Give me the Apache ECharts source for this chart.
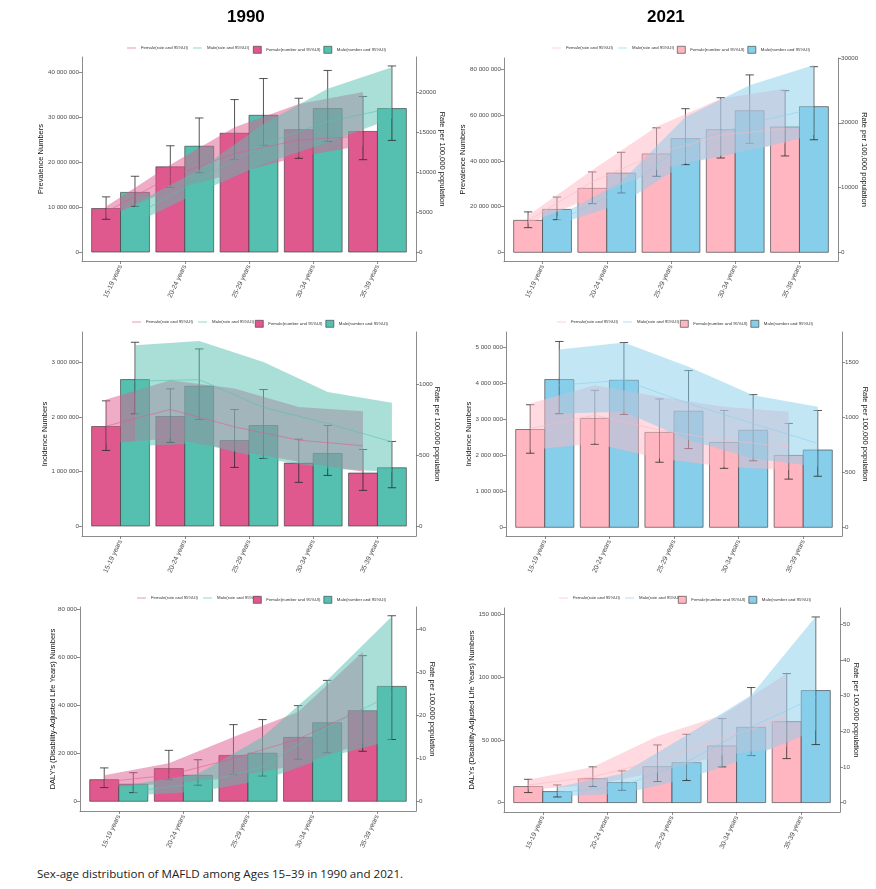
<!DOCTYPE html>
<html>
<head>
<meta charset="utf-8">
<title>MAFLD sex-age distribution</title>
<script src="https://cdn.jsdelivr.net/npm/echarts@6/dist/echarts.min.js"></script>
<style>
  html, body { margin: 0; padding: 0; background: #fff; }
  body { width: 876px; height: 889px; position: relative; overflow: hidden; }
  .panel { position: absolute; }
  #caption { position: absolute; left: 37px; top: 866px; font: 11.6px "Open Sans", sans-serif; color: #222; white-space: nowrap; }
</style>
</head>
<body>
<div id="p1" class="panel" style="left:0;top:0;width:452px;height:300px"></div>
<div id="p2" class="panel" style="left:440px;top:0;width:436px;height:300px"></div>
<div id="p3" class="panel" style="left:0;top:300px;width:452px;height:280px"></div>
<div id="p4" class="panel" style="left:440px;top:300px;width:436px;height:280px"></div>
<div id="p5" class="panel" style="left:0;top:580px;width:452px;height:280px"></div>
<div id="p6" class="panel" style="left:440px;top:580px;width:436px;height:280px"></div>
<div id="caption">Sex-age distribution of MAFLD among Ages 15–39 in 1990 and 2021.</div>
<script>
// age groups on the x axis
var ageGroups = ['15-19 years', '20-24 years', '25-29 years', '30-34 years', '35-39 years'];

// each row: [value, lower UI, upper UI]
// --- prevalence ---
var prev1990FemaleNum = [[9700000, 7300000, 12300000], [19000000, 14400000, 23700000], [26500000, 20600000, 34000000], [27300000, 20900000, 34300000], [26900000, 20600000, 34700000]];
var prev1990MaleNum = [[13300000, 10200000, 16900000], [23600000, 17700000, 29900000], [30500000, 23800000, 38700000], [32000000, 24700000, 40500000], [32000000, 24900000, 41500000]];
var prev1990FemaleRate = [[5000, 4300, 5700], [9400, 7750, 10900], [12300, 9800, 15600], [14000, 11900, 18500], [14500, 13300, 20000]];
var prev1990MaleRate = [[4600, 3600, 6000], [9000, 7500, 10300], [13500, 11000, 16000], [16300, 13700, 20400], [18000, 16700, 23100]];

var prev2021FemaleNum = [[14000000, 10800000, 17700000], [28000000, 21300000, 35200000], [43100000, 33300000, 54500000], [53700000, 41300000, 67700000], [54900000, 42200000, 70800000]];
var prev2021MaleNum = [[18800000, 14300000, 24200000], [34700000, 26000000, 43800000], [49800000, 38400000, 62900000], [62000000, 47700000, 77700000], [63800000, 49300000, 81300000]];
var prev2021FemaleRate = [[4900, 4400, 5700], [10900, 8500, 12700], [15200, 12700, 19400], [18100, 15000, 23700], [19100, 16800, 25300]];
var prev2021MaleRate = [[4800, 4300, 5500], [9600, 7500, 10900], [16800, 13700, 20900], [19900, 15700, 25800], [22200, 18100, 28900]];

// --- incidence ---
var inc1990FemaleNum = [[1823000, 1384000, 2293000], [2006000, 1530000, 2512000], [1567000, 1073000, 2134000], [1152000, 799000, 1591000], [970000, 652000, 1402000]];
var inc1990MaleNum = [[2683000, 2055000, 3366000], [2561000, 1951000, 3244000], [1841000, 1238000, 2500000], [1329000, 927000, 1841000], [1067000, 701000, 1549000]];
var inc1990FemaleRate = [[706, 584, 894], [824, 619, 1031], [701, 536, 972], [607, 454, 842], [567, 384, 812]];
var inc1990MaleRate = [[1024, 565, 1278], [1035, 584, 1308], [838, 478, 1160], [725, 407, 948], [595, 384, 871]];

var inc2021FemaleNum = [[2720000, 2060000, 3410000], [3030000, 2310000, 3810000], [2640000, 1810000, 3570000], [2360000, 1640000, 3250000], [2000000, 1340000, 2890000]];
var inc2021MaleNum = [[4110000, 3160000, 5170000], [4090000, 3140000, 5140000], [3230000, 2190000, 4360000], [2700000, 1850000, 3690000], [2150000, 1420000, 3250000]];
var inc2021FemaleRate = [[900, 703, 1127], [1021, 764, 1294], [885, 627, 1188], [794, 552, 1097], [733, 521, 1052]];
var inc2021MaleRate = [[1294, 1036, 1618], [1339, 1052, 1682], [1127, 794, 1461], [945, 627, 1203], [764, 552, 1097]];

// --- DALYs ---
var daly1990FemaleNum = [[9000, 5700, 13900], [13600, 9000, 21200], [19100, 11100, 31900], [26600, 17500, 39800], [37700, 20800, 60600]];
var daly1990MaleNum = [[7100, 3600, 11900], [10800, 6700, 17300], [20000, 10500, 34000], [32700, 20200, 50300], [47800, 25700, 77200]];
var daly1990FemaleRate = [[4.5, 3.3, 6.1], [6.1, 4.1, 8.9], [10.0, 5.7, 15.0], [14.5, 8.4, 20.8], [21.5, 13.4, 34.8]];
var daly1990MaleRate = [[2.4, 1.4, 4.0], [4.1, 2.2, 6.4], [8.0, 4.9, 15.0], [17.3, 10.3, 28.2], [24.9, 14.2, 43.1]];

var daly2021FemaleNum = [[12800, 8000, 18600], [19100, 12800, 28500], [28700, 16800, 46000], [45200, 28500, 67000], [64600, 35100, 102900]];
var daly2021MaleNum = [[8800, 4500, 14100], [16000, 9800, 25300], [31900, 17600, 54500], [60100, 37500, 91800], [89400, 46300, 148100]];
var daly2021FemaleRate = [[4.9, 3.6, 6.4], [7.2, 4.9, 10.0], [11.9, 8.6, 18.6], [17.9, 13.3, 24.5], [24.0, 15.6, 36.2]];
var daly2021MaleRate = [[2.8, 1.8, 4.4], [4.6, 2.5, 8.1], [11.4, 6.7, 18.9], [21.2, 12.8, 30.1], [29.6, 20.3, 52.2]];

// tick labels
var prev1990Ticks = [0, 10000000, 20000000, 30000000, 40000000];
var prev1990RateTicks = [0, 5000, 10000, 15000, 20000];
var prev2021Ticks = [0, 20000000, 40000000, 60000000, 80000000];
var prev2021RateTicks = [0, 10000, 20000, 30000];
var inc1990Ticks = [0, 1000000, 2000000, 3000000];
var inc1990RateTicks = [0, 500, 1000];
var inc2021Ticks = [0, 1000000, 2000000, 3000000, 4000000, 5000000];
var inc2021RateTicks = [0, 500, 1000, 1500];
var daly1990Ticks = [0, 20000, 40000, 60000, 80000];
var daly1990RateTicks = [0, 10, 20, 30, 40];
var daly2021Ticks = [0, 50000, 100000, 150000];
var daly2021RateTicks = [0, 10, 20, 30, 40, 50];

var FEMALE_RATE = 'Female(rate and 95%UI)';
var MALE_RATE = 'Male(rate and 95%UI)';
var FEMALE_NUM = 'Female(number and 95%UI)';
var MALE_NUM = 'Male(number and 95%UI)';

var colors1990 = { female: '#E0598E', male: '#55C0AF' };
var colors2021 = { female: '#FFB6C1', male: '#87CEEB' };

var axisGrey = '#6e6e6e';
var labelGrey = '#4d4d4d';
var font = 'Liberation Sans';

function spaced(v) {
  return String(v).replace(/\B(?=(\d{3})+(?!\d))/g, ' ');
}

function rgba(hex, a) {
  var n = parseInt(hex.slice(1), 16);
  return 'rgba(' + (n >> 16) + ',' + ((n >> 8) & 255) + ',' + (n & 255) + ',' + a + ')';
}

// rows [x, value, lo, hi] at group position i+1 shifted by dx
function toRows(arr, dx) {
  return arr.map(function(d, i) { return [i + 1 + dx, d[0], d[1], d[2]]; });
}

function barSeries(name, rows, color) {
  return {
    type: 'custom', name: name, data: rows,
    itemStyle: { color: color, borderColor: '#333', borderWidth: 0.6 },
    renderItem: function(params, api) {
      var x = api.value(0);
      var a = api.coord([x - 0.225, 0]);
      var b = api.coord([x + 0.225, api.value(1)]);
      return {
        type: 'rect',
        shape: { x: a[0], y: b[1], width: b[0] - a[0], height: a[1] - b[1] },
        style: { fill: color, stroke: '#333', lineWidth: 0.6 }
      };
    }
  };
}

function errorSeries(name, rows) {
  return {
    type: 'custom', name: name, data: rows, silent: true,
    renderItem: function(params, api) {
      var x = api.value(0);
      var lo = api.coord([x, api.value(2)]);
      var hi = api.coord([x, api.value(3)]);
      var capL = api.coord([x - 0.065, api.value(2)])[0];
      var capR = api.coord([x + 0.065, api.value(2)])[0];
      var st = { stroke: '#2a2a2a', lineWidth: 0.8 };
      return {
        type: 'group',
        children: [
          { type: 'line', shape: { x1: lo[0], y1: lo[1], x2: hi[0], y2: hi[1] }, style: st },
          { type: 'line', shape: { x1: capL, y1: lo[1], x2: capR, y2: lo[1] }, style: st },
          { type: 'line', shape: { x1: capL, y1: hi[1], x2: capR, y2: hi[1] }, style: st }
        ]
      };
    }
  };
}

function bandSeries(name, rows, color) {
  return {
    type: 'custom', name: name, yAxisIndex: 1, data: rows, silent: true,
    renderItem: function(params, api) {
      if (params.dataIndex !== 0) return null;
      var upper = rows.map(function(r) { return api.coord([r[0], r[3]]); });
      var lower = rows.map(function(r) { return api.coord([r[0], r[2]]); }).reverse();
      return {
        type: 'polygon',
        shape: { points: upper.concat(lower) },
        style: { fill: rgba(color, 0.5) }
      };
    }
  };
}

function lineSeries(name, rows, color) {
  return {
    type: 'line', name: name, yAxisIndex: 1, symbol: 'none', silent: true,
    data: rows.map(function(r) { return [r[0], r[1]]; }),
    itemStyle: { color: color },
    lineStyle: { color: rgba(color, 0.8), width: 0.7 }
  };
}

function drawPanel(p) {
  var chart = echarts.init(document.getElementById(p.id), null, { renderer: 'canvas' });
  var c = p.colors;
  var fNum = toRows(p.femaleNum, -0.225);
  var mNum = toRows(p.maleNum, 0.225);
  var fRate = toRows(p.femaleRate, -0.225);
  var mRate = toRows(p.maleRate, 0.225);
  var legendText = { fontSize: 4.3, color: '#333', fontFamily: font };

  chart.setOption({
    animation: false,
    textStyle: { fontFamily: font },
    title: p.title ? {
      text: p.title, left: p.titleLeft, top: 4,
      textStyle: { fontSize: 17, fontWeight: 'bold', color: '#000', fontFamily: font }
    } : undefined,
    legend: [
      {
        left: p.legendLeft[0], top: p.legendTop, itemWidth: 9, itemHeight: 0.8, itemGap: 5,
        icon: 'rect', textStyle: legendText, selectedMode: false,
        data: [
          { name: FEMALE_RATE, itemStyle: { color: rgba(c.female, 0.8) } },
          { name: MALE_RATE, itemStyle: { color: rgba(c.male, 0.8) } }
        ]
      },
      {
        left: p.legendLeft[1], top: p.legendTop, itemWidth: 8, itemHeight: 7, itemGap: 3,
        textStyle: legendText, selectedMode: false,
        data: [
          { name: FEMALE_NUM, icon: 'rect', itemStyle: { color: c.female, borderColor: '#333', borderWidth: 0.6 } },
          { name: MALE_NUM, icon: 'rect', itemStyle: { color: c.male, borderColor: '#333', borderWidth: 0.6 } }
        ]
      }
    ],
    grid: Object.assign({ containLabel: false, outerBoundsMode: 'none' }, p.grid),
    xAxis: {
      type: 'value', min: 0.4, max: 5.6,
      splitLine: { show: false },
      axisLine: { onZero: false, lineStyle: { color: axisGrey, width: 0.8 } },
      axisTick: { customValues: [1, 2, 3, 4, 5], length: 3, lineStyle: { color: axisGrey, width: 0.8 } },
      axisLabel: {
        customValues: [1, 2, 3, 4, 5], rotate: 65, margin: 4,
        fontSize: 6.8, color: labelGrey,
        formatter: function(v) { return ageGroups[Math.round(v) - 1]; }
      }
    },
    yAxis: [
      {
        type: 'value', position: 'left', min: p.leftRange[0], max: p.leftRange[1],
        name: p.yName, nameLocation: 'middle', nameGap: p.nameGap[0], nameMoveOverlap: false,
        nameTextStyle: { fontSize: 7.5, color: '#111' },
        splitLine: { show: false },
        axisLine: { show: true, onZero: false, lineStyle: { color: axisGrey, width: 0.8 } },
        axisTick: { show: true, customValues: p.leftTicks, length: 3, lineStyle: { color: axisGrey, width: 0.8 } },
        axisLabel: { customValues: p.leftTicks, margin: 3, fontSize: 6.2, color: labelGrey, formatter: spaced }
      },
      {
        type: 'value', position: 'right', min: p.rightRange[0], max: p.rightRange[1],
        name: 'Rate per 100,000 population', nameLocation: 'middle', nameGap: p.nameGap[1], nameRotate: -90,
        nameMoveOverlap: false,
        nameTextStyle: { fontSize: 7.5, color: '#111' },
        splitLine: { show: false },
        axisLine: { show: true, onZero: false, lineStyle: { color: axisGrey, width: 0.8 } },
        axisTick: { show: true, customValues: p.rightTicks, length: 3, lineStyle: { color: axisGrey, width: 0.8 } },
        axisLabel: { customValues: p.rightTicks, margin: 3, fontSize: 6.2, color: labelGrey, formatter: function(v) { return String(v); } }
      }
    ],
    series: [
      barSeries(FEMALE_NUM, fNum, c.female),
      barSeries(MALE_NUM, mNum, c.male),
      errorSeries('female error', fNum),
      errorSeries('male error', mNum),
      bandSeries('female band', fRate, c.female),
      bandSeries('male band', mRate, c.male),
      lineSeries(FEMALE_RATE, fRate, c.female),
      lineSeries(MALE_RATE, mRate, c.male)
    ]
  });
  return chart;
}

var panels = [
  {
    id: 'p1', title: '1990', titleLeft: 222, yName: 'Prevalence Numbers', colors: colors1990,
    femaleNum: prev1990FemaleNum, maleNum: prev1990MaleNum, femaleRate: prev1990FemaleRate, maleRate: prev1990MaleRate,
    leftTicks: prev1990Ticks, rightTicks: prev1990RateTicks,
    leftRange: [-2000000, 43500000], rightRange: [-1125, 24375],
    grid: { left: 82, top: 57, width: 334, height: 204 }, nameGap: [37, 22],
    legendLeft: [122, 248], legendTop: 41
  },
  {
    id: 'p2', title: '2021', titleLeft: 202, yName: 'Prevalence Numbers', colors: colors2021,
    femaleNum: prev2021FemaleNum, maleNum: prev2021MaleNum, femaleRate: prev2021FemaleRate, maleRate: prev2021MaleRate,
    leftTicks: prev2021Ticks, rightTicks: prev2021RateTicks,
    leftRange: [-3800000, 85100000], rightRange: [-1343, 30000],
    grid: { left: 64, top: 58, width: 334, height: 203 }, nameGap: [37.5, 22],
    legendLeft: [107, 232], legendTop: 41
  },
  {
    id: 'p3', yName: 'Incidence Numbers', colors: colors1990,
    femaleNum: inc1990FemaleNum, maleNum: inc1990MaleNum, femaleRate: inc1990FemaleRate, maleRate: inc1990MaleRate,
    leftTicks: inc1990Ticks, rightTicks: inc1990RateTicks,
    leftRange: [-183000, 3554000], rightRange: [-70.6, 1371.6],
    grid: { left: 82, top: 32, width: 334, height: 204 }, nameGap: [33, 17.5],
    legendLeft: [127, 250], legendTop: 15
  },
  {
    id: 'p4', yName: 'Incidence Numbers', colors: colors2021,
    femaleNum: inc2021FemaleNum, maleNum: inc2021MaleNum, femaleRate: inc2021FemaleRate, maleRate: inc2021MaleRate,
    leftTicks: inc2021Ticks, rightTicks: inc2021RateTicks,
    leftRange: [-242000, 5433000], rightRange: [-79, 1778],
    grid: { left: 66, top: 32, width: 336, height: 204 }, nameGap: [33, 19.5],
    legendLeft: [112, 235], legendTop: 15
  },
  {
    id: 'p5', yName: "DALY's (Disability-Adjusted Life Years) Numbers", colors: colors1990,
    femaleNum: daly1990FemaleNum, maleNum: daly1990MaleNum, femaleRate: daly1990FemaleRate, maleRate: daly1990MaleRate,
    leftTicks: daly1990Ticks, rightTicks: daly1990RateTicks,
    leftRange: [-4036, 80840], rightRange: [-2.26, 45.3],
    grid: { left: 80, top: 27, width: 336, height: 204 }, nameGap: [23, 12],
    legendLeft: [132, 248], legendTop: 11
  },
  {
    id: 'p6', yName: 'DALYs (Disability-Adjusted Life Years) Numbers', colors: colors2021,
    femaleNum: daly2021FemaleNum, maleNum: daly2021MaleNum, femaleRate: daly2021FemaleRate, maleRate: daly2021MaleRate,
    leftTicks: daly2021Ticks, rightTicks: daly2021RateTicks,
    leftRange: [-7500, 155260], rightRange: [-2.64, 54.56],
    grid: { left: 64, top: 28, width: 336, height: 204 }, nameGap: [28, 12],
    legendLeft: [114, 233], legendTop: 11
  }
];

var charts = panels.map(drawPanel);
window.addEventListener('resize', function() { charts.forEach(function(ch) { ch.resize(); }); });
</script>
</body>
</html>
